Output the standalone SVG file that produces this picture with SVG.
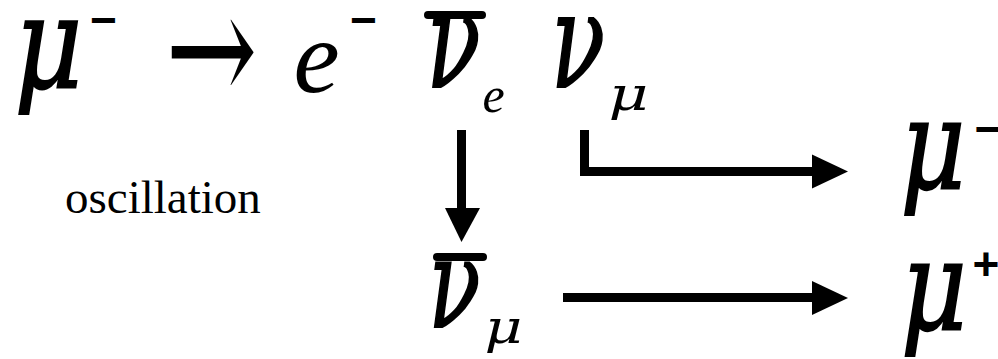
<svg xmlns="http://www.w3.org/2000/svg" width="998" height="359" viewBox="0 0 998 359">
<style>
.g{font-family:"DejaVu Serif",serif;font-style:italic;fill:#000;text-anchor:middle;stroke:#000;stroke-width:2}
.gs{font-family:"DejaVu Serif",serif;font-style:italic;fill:#000;text-anchor:middle}
.e{font-family:"Liberation Serif","Times New Roman",serif;font-style:italic;fill:#000;text-anchor:middle}
.ar{font-family:"DejaVu Serif",serif;fill:#000;text-anchor:middle}
.sg{font-family:"Liberation Sans",Arial,sans-serif;font-weight:bold;fill:#000;text-anchor:middle}
.lbl{font-family:"Liberation Serif","Times New Roman",serif;fill:#000}
.bar{stroke:#000;stroke-width:8;stroke-linecap:round}
.ln{stroke:#000;fill:none;stroke-width:9}
.hd{fill:#000}
</style>
<rect width="998" height="359" fill="#fff"/>
<g id="decay">
<text class="g" x="48.5" y="87" font-size="128" textLength="68" lengthAdjust="spacingAndGlyphs">μ</text>
<text class="sg" x="103.5" y="36" font-size="46">−</text>
<text class="ar" x="211.5" y="104" font-size="160" textLength="92" lengthAdjust="spacingAndGlyphs">→</text>
<text class="e" x="316.5" y="92" font-size="104">e</text>
<text class="sg" x="363.5" y="36" font-size="46">−</text>
<line class="bar" x1="428" y1="15" x2="482" y2="15"/>
<text class="g" x="453.5" y="87" font-size="132" textLength="54" lengthAdjust="spacingAndGlyphs">ν</text>
<text class="e" x="493.5" y="112" font-size="50">e</text>
<text class="g" x="578" y="87" font-size="132" textLength="54" lengthAdjust="spacingAndGlyphs">ν</text>
<text class="gs" x="628.5" y="110" font-size="46" textLength="40" lengthAdjust="spacingAndGlyphs">μ</text>
</g>
<g id="oscillation-label">
<text class="lbl" x="65" y="213" font-size="47">oscillation</text>
</g>
<g id="nubar-mu">
<line class="bar" x1="437" y1="257" x2="483" y2="257"/>
<text class="g" x="454.5" y="327" font-size="124" textLength="52" lengthAdjust="spacingAndGlyphs">ν</text>
<text class="gs" x="503.5" y="343" font-size="46" textLength="38" lengthAdjust="spacingAndGlyphs">μ</text>
</g>
<g id="mu-minus">
<text class="g" x="933" y="189" font-size="126" textLength="65" lengthAdjust="spacingAndGlyphs">μ</text>
<text class="sg" x="988" y="145" font-size="46">−</text>
</g>
<g id="mu-plus">
<text class="g" x="934" y="330" font-size="126" textLength="66" lengthAdjust="spacingAndGlyphs">μ</text>
<text class="sg" x="986" y="280" font-size="46">+</text>
</g>
<g id="connectors">
<line class="ln" x1="461.5" y1="130" x2="461.5" y2="210"/>
<polygon class="hd" points="445,208 480,208 461.5,242"/>
<path class="ln" d="M584.5,130 V171.5 H814" stroke-width="8"/>
<polygon class="hd" points="812,154.5 848,171.5 812,188.5"/>
<line class="ln" x1="563" y1="297.5" x2="814" y2="297.5" stroke-width="8.5"/>
<polygon class="hd" points="812,281 848,298 812,315"/>
</g>
</svg>
